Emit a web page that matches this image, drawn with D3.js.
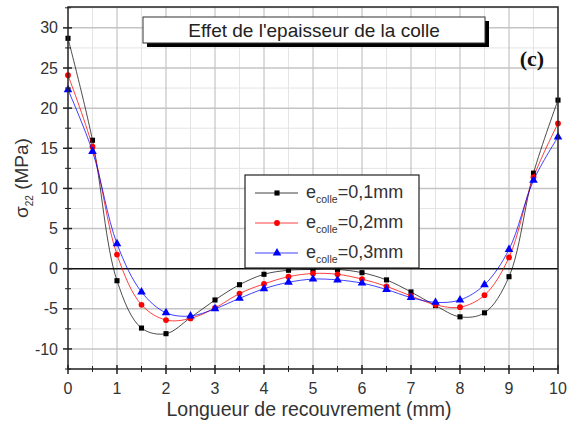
<!DOCTYPE html>
<html>
<head>
<meta charset="utf-8">
<script src="https://cdn.jsdelivr.net/npm/d3@7"></script>
<style>
  html, body { margin: 0; padding: 0; background: #fff; }
  svg { display: block; }
</style>
</head>
<body>
<svg id="chart" width="568" height="423"></svg>
<script>
// Positions along the overlap (mm)
const positions = [0, 0.5, 1, 1.5, 2, 2.5, 3, 3.5, 4, 4.5, 5, 5.5, 6, 6.5, 7, 7.5, 8, 8.5, 9, 9.5, 10];

// Peel stress sigma_22 (MPa) for each adhesive thickness
const sigma01 = [28.7, 16.0, -1.5, -7.4, -8.1, -6.1, -3.9, -2.0, -0.7, -0.2, -0.1, -0.1, -0.5, -1.4, -2.9, -4.6, -6.0, -5.5, -1.0, 11.9, 21.0];
const sigma02 = [24.1, 15.2, 1.75, -4.5, -6.4, -6.2, -4.9, -3.1, -1.9, -1.0, -0.6, -0.7, -1.3, -2.2, -3.4, -4.5, -4.8, -3.3, 1.4, 11.4, 18.1];
const sigma03 = [22.3, 14.6, 3.1, -2.9, -5.5, -5.9, -5.0, -3.7, -2.5, -1.7, -1.3, -1.4, -1.8, -2.6, -3.6, -4.2, -3.9, -2.0, 2.4, 11.0, 16.4];

const seriesNames = ["=0,1mm", "=0,2mm", "=0,3mm"];
const seriesColors = ["#000000", "#ff0000", "#0000ff"];
const seriesSymbols = [d3.symbolSquare, d3.symbolCircle, d3.symbolTriangle];

const xTicks = [0, 1, 2, 3, 4, 5, 6, 7, 8, 9, 10];
const yTicks = [-10, -5, 0, 5, 10, 15, 20, 25, 30];

const chartTitle = "Effet de l'epaisseur de la colle";
const panelLabel = "(c)";
const xTitle = "Longueur de recouvrement (mm)";

const svg = d3.select("#chart");
const plotLeft = 68, plotRight = 558, plotTop = 7, plotBottom = 369;

const x = d3.scaleLinear().domain([0, 10]).range([plotLeft, plotRight]);
const y = d3.scaleLinear().domain([-12.5, 32.6]).range([plotBottom, plotTop]);

const font = "'Liberation Sans', Arial, sans-serif";

// Grid: minor then major
const g = svg.append("g");
const xMinor = d3.range(0.5, 10, 1);
const yMinor = d3.range(-12.5, 32.6, 5);
g.selectAll(".vmin").data(xMinor).join("line")
  .attr("x1", d => x(d)).attr("x2", d => x(d)).attr("y1", plotTop).attr("y2", plotBottom)
  .attr("stroke", "#e4e4e4").attr("stroke-width", 1);
g.selectAll(".hmin").data(yMinor).join("line")
  .attr("y1", d => y(d)).attr("y2", d => y(d)).attr("x1", plotLeft).attr("x2", plotRight)
  .attr("stroke", "#e4e4e4").attr("stroke-width", 1);
g.selectAll(".vmaj").data(xTicks.slice(1, -1)).join("line")
  .attr("x1", d => x(d)).attr("x2", d => x(d)).attr("y1", plotTop).attr("y2", plotBottom)
  .attr("stroke", "#b8b8b8").attr("stroke-width", 1);
g.selectAll(".hmaj").data(yTicks.filter(d => d !== 0)).join("line")
  .attr("y1", d => y(d)).attr("y2", d => y(d)).attr("x1", plotLeft).attr("x2", plotRight)
  .attr("stroke", "#c4c4c4").attr("stroke-width", 1.5);

// zero line
svg.append("line")
  .attr("x1", plotLeft).attr("x2", plotRight).attr("y1", y(0)).attr("y2", y(0))
  .attr("stroke", "#111").attr("stroke-width", 1.5);

// Curves and markers
const allSeries = [sigma01, sigma02, sigma03];
const line = d3.line()
  .x((d, i) => x(positions[i]))
  .y(d => y(d))
  .curve(d3.curveCatmullRom.alpha(0.5));

allSeries.forEach((vals, k) => {
  svg.append("path")
    .attr("d", line(vals))
    .attr("fill", "none")
    .attr("stroke", seriesColors[k])
    .attr("stroke-opacity", k === 0 ? 0.7 : 0.75)
    .attr("stroke-width", 1);
  const sym = d3.symbol().type(seriesSymbols[k]).size(k === 2 ? 32 : 26);
  svg.append("g").selectAll("path").data(vals).join("path")
    .attr("transform", (d, i) => `translate(${x(positions[i])},${y(d)})`)
    .attr("d", sym)
    .attr("fill", seriesColors[k]);
});

// Frame
svg.append("rect")
  .attr("x", plotLeft).attr("y", plotTop).attr("width", plotRight - plotLeft).attr("height", plotBottom - plotTop)
  .attr("fill", "none").attr("stroke", "#222").attr("stroke-width", 1.5);

// Axes with ticks crossing the frame
const xAxis = svg.append("g").attr("transform", `translate(0,${plotBottom})`);
xAxis.selectAll(".tmaj").data(xTicks).join("line")
  .attr("x1", d => x(d)).attr("x2", d => x(d)).attr("y1", -4).attr("y2", 5)
  .attr("stroke", "#222").attr("stroke-width", 1.5);
xAxis.selectAll(".tmin").data(xMinor).join("line")
  .attr("x1", d => x(d)).attr("x2", d => x(d)).attr("y1", -3).attr("y2", 3)
  .attr("stroke", "#222").attr("stroke-width", 1);
xAxis.selectAll("text").data(xTicks).join("text")
  .attr("x", d => x(d)).attr("y", 25)
  .attr("text-anchor", "middle")
  .attr("font-family", font).attr("font-size", 16).attr("fill", "#333")
  .text(d => d);

const yAxis = svg.append("g").attr("transform", `translate(${plotLeft},0)`);
yAxis.selectAll(".tmaj").data(yTicks).join("line")
  .attr("y1", d => y(d)).attr("y2", d => y(d)).attr("x1", -5).attr("x2", 4)
  .attr("stroke", "#222").attr("stroke-width", 1.5);
yAxis.selectAll(".tmin").data(yMinor).join("line")
  .attr("y1", d => y(d)).attr("y2", d => y(d)).attr("x1", -3).attr("x2", 3)
  .attr("stroke", "#222").attr("stroke-width", 1);
yAxis.selectAll("text").data(yTicks).join("text")
  .attr("x", -10).attr("y", d => y(d)).attr("dy", "0.35em")
  .attr("text-anchor", "end")
  .attr("font-family", font).attr("font-size", 16).attr("fill", "#333")
  .text(d => d);

// Axis titles
svg.append("text")
  .attr("x", 309).attr("y", 416)
  .attr("text-anchor", "middle")
  .attr("font-family", font).attr("font-size", 19.5).attr("fill", "#333")
  .text(xTitle);

const yt = svg.append("text")
  .attr("transform", "translate(28,178) rotate(-90)")
  .attr("text-anchor", "middle")
  .attr("font-family", font).attr("font-size", 19).attr("fill", "#333");
yt.append("tspan").text("σ");
yt.append("tspan").attr("font-size", 10).attr("dy", 5).text("22");
yt.append("tspan").attr("dy", -5).text(" (MPa)");

// Title box with drop shadow
svg.append("rect").attr("x", 147).attr("y", 21).attr("width", 342).attr("height", 26).attr("fill", "#000");
svg.append("rect").attr("x", 143).attr("y", 17).attr("width", 342).attr("height", 26)
  .attr("fill", "#fff").attr("stroke", "#333").attr("stroke-width", 1);
svg.append("text")
  .attr("x", 314).attr("y", 37)
  .attr("text-anchor", "middle")
  .attr("font-family", font).attr("font-size", 19).attr("fill", "#222")
  .text(chartTitle);

svg.append("text")
  .attr("x", 532).attr("y", 66)
  .attr("text-anchor", "middle")
  .attr("font-family", "'Liberation Serif', 'Times New Roman', serif")
  .attr("font-weight", "bold").attr("font-size", 22).attr("fill", "#111")
  .text(panelLabel);

// Legend
const legend = svg.append("g");
legend.append("rect").attr("x", 245).attr("y", 175).attr("width", 174).attr("height", 93)
  .attr("fill", "#fff").attr("stroke", "#222").attr("stroke-width", 1.2);
seriesNames.forEach((name, k) => {
  const ly = 193 + k * 30;
  legend.append("line").attr("x1", 255).attr("x2", 298).attr("y1", ly).attr("y2", ly)
    .attr("stroke", seriesColors[k]).attr("stroke-width", 1).attr("stroke-opacity", 0.75);
  legend.append("path")
    .attr("transform", `translate(277,${ly})`)
    .attr("d", d3.symbol().type(seriesSymbols[k]).size(k === 2 ? 32 : 26)())
    .attr("fill", seriesColors[k]);
  const t = legend.append("text")
    .attr("x", 306).attr("y", ly + 5)
    .attr("font-family", font).attr("font-size", 18).attr("fill", "#333");
  t.append("tspan").text("e");
  t.append("tspan").attr("font-size", 10.5).attr("dy", 5).text("colle");
  t.append("tspan").attr("dy", -5).text(name);
});
</script>
</body>
</html>
